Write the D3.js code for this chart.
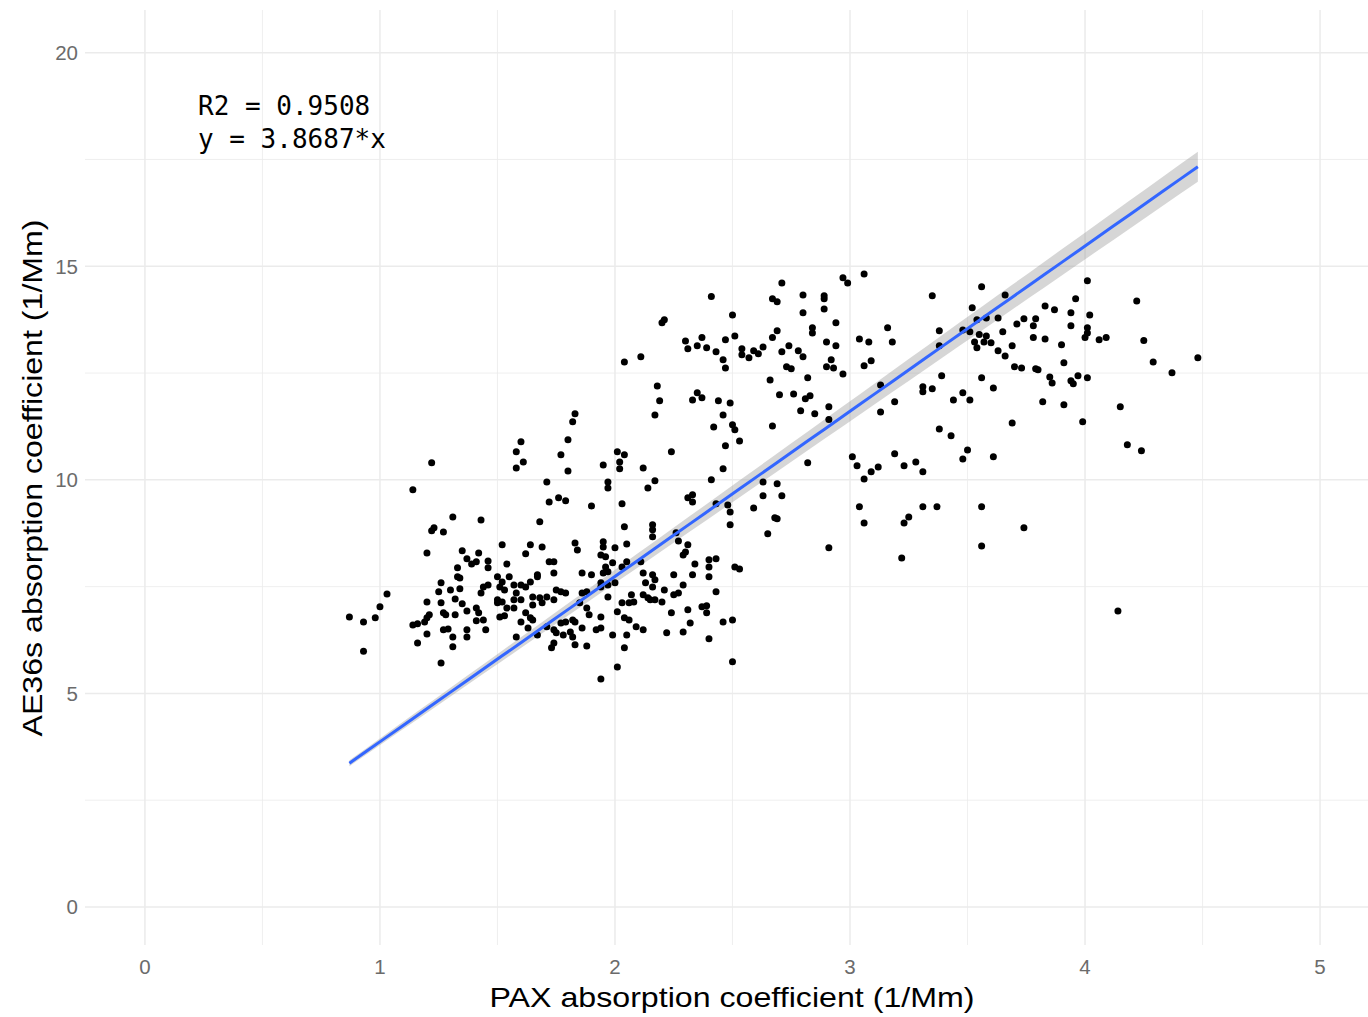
<!DOCTYPE html>
<html>
<head>
<meta charset="utf-8">
<script src="https://cdn.jsdelivr.net/npm/d3@7"></script>
<style>
  body { margin: 0; background: #fff; }
  text { font-family: "Liberation Sans", Arial, sans-serif; }
</style>
</head>
<body>
<div id="chart"></div>
<script>
// PAX absorption coefficient (1/Mm)
const pax = [
  1.60,1.58,1.61,1.58,1.22,1.14,1.71,1.72,1.76,1.77,1.31,1.43,1.23,1.22,1.27,1.68,1.20,1.52,1.64,1.69,
  1.62,1.35,1.37,1.42,1.41,1.39,1.46,1.46,1.33,1.33,1.34,1.54,1.72,1.74,1.74,1.67,1.26,1.25,1.30,1.34,
  1.03,1.00,0.98,0.87,0.93,0.93,1.20,1.21,1.20,1.19,1.14,1.16,1.16,1.20,1.26,1.27,1.28,1.32,1.32,1.35,
  1.27,1.29,1.31,1.31,1.26,1.37,1.41,1.42,1.37,1.37,1.41,1.44,1.45,1.43,1.44,1.46,1.50,1.52,1.55,1.51,
  1.53,1.57,1.50,1.52,1.50,1.54,1.57,1.60,1.62,1.64,1.67,1.58,1.60,1.65,1.68,1.71,1.65,1.69,1.74,1.51,
  1.53,1.57,1.62,1.64,1.65,1.60,1.58,1.63,1.67,1.71,1.74,1.75,1.74,1.73,
  1.83,1.82,2.17,2.46,2.42,2.50,2.51,2.67,1.80,2.53,2.47,2.01,2.04,2.02,2.02,2.24,1.95,1.80,2.12,2.46,
  1.97,1.97,2.17,2.14,2.41,2.63,2.63,1.79,1.90,2.03,2.31,2.33,2.33,2.43,2.48,2.49,2.59,2.68,2.65,2.49,
  2.04,2.16,2.16,2.16,2.26,2.27,2.31,2.30,2.29,1.83,1.84,1.95,1.95,1.94,1.96,2.00,2.05,2.11,2.05,2.03,
  1.99,1.96,1.95,1.97,2.34,2.40,2.43,2.40,2.51,2.53,1.86,1.90,2.12,2.16,2.17,2.13,2.16,2.25,2.33,2.40,
  1.75,1.77,1.79,1.86,1.88,1.94,1.94,1.97,2.00,1.97,2.07,2.06,2.08,2.12,2.14,2.15,2.17,2.20,2.21,2.25,
  2.27,2.29,2.43,2.03,1.85,1.88,1.89,1.94,2.01,2.04,2.06,2.09,2.12,2.24,2.31,2.32,2.37,2.39,2.39,2.46,
  2.50,1.77,1.79,1.82,1.83,1.86,1.92,1.94,1.78,1.81,1.82,1.83,1.88,1.99,2.05,2.04,2.22,2.29,2.40,2.01,
  1.94,2.50,
  2.41,2.67,2.50,2.21,2.20,2.30,2.31,2.35,2.37,2.39,2.43,2.47,2.51,2.46,2.47,2.54,2.54,2.57,2.59,2.61,
  2.63,2.67,2.66,2.04,2.11,2.18,2.19,2.33,2.35,2.37,2.44,2.49,
  3.06,2.97,2.99,2.71,3.56,3.35,2.80,2.89,2.89,2.89,2.69,2.80,3.52,2.94,2.84,2.84,2.69,3.16,3.38,3.48,
  3.51,3.54,3.58,3.04,3.08,3.18,2.90,2.74,2.78,2.80,2.94,2.71,3.53,3.55,3.54,3.57,3.58,3.38,2.92,2.90,
  2.93,3.09,3.06,2.73,2.75,2.97,2.82,3.39,3.56,3.13,3.31,3.31,3.35,2.70,2.76,2.81,2.83,3.19,3.44,3.48,
  3.51,2.91,2.79,2.85,3.13,2.91,3.38,3.43,2.82,3.01,3.03,3.09,3.06,3.12,3.19,3.23,3.28,3.31,3.50,3.48,
  2.69,2.71,2.69,3.04,3.06,3.25,3.23,3.31,3.37,3.56,3.56,2.91,3.22,
  3.69,3.99,4.18,4.24,3.61,3.74,4.14,4.01,4.22,3.96,3.83,3.87,3.94,4.02,3.63,3.74,3.79,3.71,3.78,3.94,
  4.01,4.01,4.00,3.65,3.78,3.83,4.06,4.09,3.60,3.69,3.90,4.25,3.63,3.66,3.66,4.29,3.91,3.70,3.73,3.79,
  3.80,4.48,4.37,3.85,3.86,3.94,3.95,3.97,4.01,3.61,3.82,3.91,4.15
];

// AE36s absorption coefficient (1/Mm), same order as pax
const ae36 = [
  10.89,10.66,10.42,10.28,10.40,9.77,9.95,9.48,9.58,10.59,9.13,9.06,8.88,8.81,8.78,9.02,8.29,8.48,8.48,8.43,
  8.27,8.34,8.15,8.29,8.08,8.03,8.10,7.94,7.94,7.73,7.70,8.03,8.08,8.08,7.82,7.78,7.59,7.38,7.42,7.45,
  7.33,7.03,6.77,6.79,6.67,5.99,7.14,6.84,6.77,6.67,6.60,6.63,6.18,6.39,7.12,6.89,6.84,7.21,6.84,7.10,
  6.49,6.51,6.32,6.09,5.71,6.93,7.00,6.89,6.49,6.32,6.70,6.72,6.49,7.35,7.49,7.54,7.73,7.61,7.73,7.49,
  7.42,7.54,7.19,7.14,7.12,7.00,7.19,7.54,7.49,7.61,7.73,7.35,7.19,7.26,7.24,7.26,7.07,7.12,7.19,6.79,
  6.82,7.00,6.89,6.77,6.72,6.67,6.32,6.53,6.37,6.56,6.49,6.42,6.18,6.07,
  11.55,11.36,11.52,11.52,11.24,11.29,11.17,11.26,10.94,10.91,10.80,10.66,10.59,10.42,10.26,10.66,10.35,10.21,10.28,10.26,
  9.95,9.81,9.98,9.81,10.00,9.95,9.63,9.51,9.39,9.44,9.58,9.65,9.48,9.44,9.41,9.25,9.34,9.11,8.74,8.95,
  8.90,8.95,8.83,8.67,8.76,8.57,8.48,8.31,8.24,8.52,8.36,8.55,8.43,8.24,8.20,8.41,8.50,8.08,8.08,7.96,
  8.06,7.96,7.82,7.85,8.03,8.13,8.15,7.96,7.96,7.91,7.82,7.78,7.82,7.78,7.66,7.59,7.49,7.78,7.78,7.73,
  7.42,7.38,7.35,7.35,7.38,7.59,7.49,7.54,7.59,7.26,7.31,7.12,7.14,7.31,7.24,7.19,7.19,7.14,7.42,7.31,
  7.35,7.54,7.38,7.12,7.12,7.00,6.84,6.79,6.91,6.77,6.72,6.56,6.49,6.89,6.96,6.65,7.03,7.05,6.89,6.67,
  6.72,6.65,6.67,6.72,6.67,6.53,6.49,6.53,6.37,6.44,6.32,6.14,6.11,6.37,6.37,6.07,6.42,6.44,6.28,5.62,
  5.34,5.74,
  14.29,14.24,13.86,13.75,13.68,13.25,13.07,13.14,13.33,13.09,13.00,13.28,13.37,12.81,12.62,13.07,12.93,12.86,13.02,12.95,
  13.11,13.33,12.34,12.76,12.88,12.20,11.85,11.87,12.04,11.92,11.85,11.80,
  14.82,14.73,14.61,14.61,14.52,14.31,14.33,14.31,14.24,14.00,14.17,13.91,14.03,13.68,13.56,13.44,13.49,13.56,13.49,13.51,
  13.47,13.75,13.79,13.30,13.23,13.23,13.23,13.14,13.02,12.88,13.14,13.00,13.23,13.40,13.09,13.23,13.37,13.14,12.81,12.65,
  12.62,12.79,12.67,12.65,12.60,12.48,12.39,12.44,12.39,12.22,12.18,12.06,12.13,11.99,12.01,11.90,11.97,11.83,11.87,12.04,
  11.87,11.71,11.62,11.55,11.59,11.41,11.19,11.03,10.40,10.54,10.33,10.19,10.02,10.30,10.61,10.33,10.42,10.19,10.70,10.49,
  9.91,9.63,9.09,9.37,8.99,9.13,8.99,9.37,9.37,9.37,8.45,8.41,8.17,
  11.33,11.36,10.82,10.68,10.54,8.88,6.93,14.66,14.19,14.24,14.07,13.98,13.91,13.86,13.79,13.77,13.77,13.65,13.61,13.61,
  13.56,13.44,13.33,13.47,13.33,13.30,13.28,13.33,13.21,13.14,13.16,13.26,13.02,12.90,14.33,12.76,12.74,12.65,12.62,12.60,
  12.58,12.86,12.51,12.41,12.27,12.32,12.25,12.44,12.39,12.15,11.83,11.76,11.71
];

const xTicks = [0, 1, 2, 3, 4, 5];
const yTicks = [0, 5, 10, 15, 20];
const xMinor = [0.5, 1.5, 2.5, 3.5, 4.5];
const yMinor = [2.5, 7.5, 12.5, 17.5];

// fit through the origin, as printed on the chart
const slope = 3.8687;
const slopeSe = 0.04;
const r2Label = "R2 = 0.9508";
const eqLabel = "y = 3.8687*x";

const W = 1368, H = 1017;
const panel = { left: 85, right: 1368, top: 10, bottom: 945 };

const svg = d3.select("#chart").append("svg")
  .attr("width", W).attr("height", H);

const x = d3.scaleLinear().domain([-0.255, 5.204]).range([panel.left, panel.right]);
const y = d3.scaleLinear().domain([-0.89, 21.0]).range([panel.bottom, panel.top]);

const grid = svg.append("g");
grid.selectAll(".xminor").data(xMinor).join("line")
  .attr("x1", d => x(d)).attr("x2", d => x(d))
  .attr("y1", panel.top).attr("y2", panel.bottom)
  .attr("stroke", "#ebebeb").attr("stroke-width", 0.8);
grid.selectAll(".yminor").data(yMinor).join("line")
  .attr("y1", d => y(d)).attr("y2", d => y(d))
  .attr("x1", panel.left).attr("x2", panel.right)
  .attr("stroke", "#ebebeb").attr("stroke-width", 0.8);
grid.selectAll(".xmajor").data(xTicks).join("line")
  .attr("x1", d => x(d)).attr("x2", d => x(d))
  .attr("y1", panel.top).attr("y2", panel.bottom)
  .attr("stroke", "#ebebeb").attr("stroke-width", 1.5);
grid.selectAll(".ymajor").data(yTicks).join("line")
  .attr("y1", d => y(d)).attr("y2", d => y(d))
  .attr("x1", panel.left).attr("x2", panel.right)
  .attr("stroke", "#ebebeb").attr("stroke-width", 1.5);

// tick labels
svg.append("g").selectAll("text").data(xTicks).join("text")
  .attr("x", d => x(d)).attr("y", 974)
  .attr("text-anchor", "middle")
  .attr("font-size", 20.5).attr("fill", "#6b6b6b")
  .text(d => d);
svg.append("g").selectAll("text").data(yTicks).join("text")
  .attr("x", 78).attr("y", d => y(d) + 7.5)
  .attr("text-anchor", "end")
  .attr("font-size", 20.5).attr("fill", "#6b6b6b")
  .text(d => d);

// confidence band + fit line over the data range
const xr = d3.extent(pax);
const fitX = d3.range(xr[0], xr[1] + 0.001, (xr[1] - xr[0]) / 50);
const band = d3.area()
  .x(d => x(d))
  .y0(d => y((slope - 1.96 * slopeSe) * d))
  .y1(d => y((slope + 1.96 * slopeSe) * d));
svg.append("path").datum(fitX)
  .attr("d", band).attr("fill", "#999999").attr("fill-opacity", 0.4);

// points
svg.append("g").selectAll("circle").data(pax).join("circle")
  .attr("cx", d => x(d)).attr("cy", (d, i) => y(ae36[i]))
  .attr("r", 3.5).attr("fill", "#000");

svg.append("path").datum(fitX)
  .attr("d", d3.line().x(d => x(d)).y(d => y(slope * d)))
  .attr("fill", "none").attr("stroke", "#3366FF").attr("stroke-width", 3);

// annotation
const ann = svg.append("g").attr("font-size", 26).attr("fill", "#000");
ann.append("text").attr("x", 198).attr("y", 115).style("font-family", "DejaVu Sans Mono").text(r2Label);
ann.append("text").attr("x", 198).attr("y", 148).style("font-family", "DejaVu Sans Mono").text(eqLabel);

// axis titles
svg.append("text")
  .attr("x", 732).attr("y", 1007)
  .attr("text-anchor", "middle").attr("font-size", 28).attr("fill", "#000")
  .attr("textLength", 485).attr("lengthAdjust", "spacingAndGlyphs")
  .text("PAX absorption coefficient (1/Mm)");
svg.append("text")
  .attr("transform", "translate(42,478) rotate(-90)")
  .attr("text-anchor", "middle").attr("font-size", 28).attr("fill", "#000")
  .attr("textLength", 517).attr("lengthAdjust", "spacingAndGlyphs")
  .text("AE36s absorption coefficient (1/Mm)");
</script>
</body>
</html>
